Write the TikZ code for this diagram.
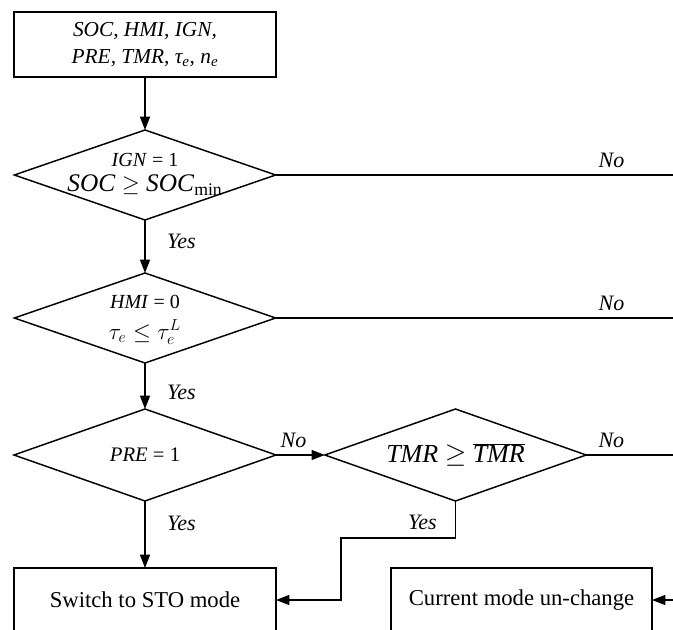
\documentclass[tikz,border=0pt]{standalone}
\usepackage{fontspec}
\setmainfont{Liberation Serif}
\usetikzlibrary{shapes.geometric,arrows.meta}
\newcommand{\dtext}[2][-3pt]{\smash{\makebox[0pt]{\raisebox{#1}{\begin{tabular}{@{}c@{}}#2\end{tabular}}}}}
\tikzset{
  block/.style={draw, rectangle, inner sep=0pt, outer sep=0pt, align=center,
    minimum width=196.5pt, minimum height=48pt, font=\fontsize{17}{20}\selectfont},
  cond/.style={draw, diamond, aspect=2.85, inner sep=0pt, outer sep=0pt,
    minimum width=196pt, minimum height=67.5pt},
  lbl/.style={font=\fontsize{16.5}{18}\selectfont\itshape, inner sep=2pt},
}
\begin{document}
\begin{tikzpicture}[x=0.75pt, y=-0.75pt, line width=1.1pt,
  >={Triangle[length=10pt,width=7.5pt]}]
\useasboundingbox (0,0) rectangle (673,630);
%
\node [block, minimum height=48.75pt, font=\fontsize{16}{20}\selectfont\itshape]
  (input) at (145,44.5) {SOC, HMI, IGN,\\ PRE, TMR, τ\textsubscript{e}, n\textsubscript{e}};
%
\node [cond, font=\fontsize{15}{19}\selectfont] (dign) at (145,175)
  {\dtext{\textit{IGN} = 1\\ \fontsize{19}{19}\selectfont\textit{SOC} $\geq$ \textit{SOC}$_{\mathrm{min}}$}};
\node [cond, font=\fontsize{15}{19}\selectfont] (dhmi) at (145,318)
  {\dtext[-4pt]{\textit{HMI} = 0\\[3pt] \fontsize{17}{17}\selectfont$\tau_e \leq \tau_e^L$}};
\node [cond, minimum width=196.5pt, minimum height=69pt, font=\fontsize{15.5}{18}\selectfont]
  (dpre) at (145,455) {\textit{PRE} = 1};
\node [cond, minimum width=196pt, minimum height=69pt, font=\fontsize{19.5}{22}\selectfont]
  (dtmr) at (455.5,455) {\textit{TMR} $\geq$ $\overline{\textit{TMR}}$};
%
\node [block] (sto) at (145,600) {Switch to STO mode};
\node [block, minimum width=195.75pt] (keep) at (521.5,600) {Current mode un-change};
%
\coordinate (e1) at (673,175);
\coordinate (e2) at (673,318);
\coordinate (e3) at (673,455);
\coordinate (e4) at (673,600);
\coordinate (t1) at (455.5,538);
\coordinate (t2) at (341,538);
%
\draw [->] (input) -- (dign);
\draw (dign.east) -- node [lbl, above=3pt, pos=0.845] {No} (e1);
\draw [->] (dign) -- node [lbl, right=14pt, pos=0.41] {Yes} (dhmi);
\draw (dhmi.east) -- node [lbl, above=3pt, pos=0.845] {No} (e2);
\draw [->] (dhmi) -- node [lbl, right=14pt, pos=0.64] {Yes} (dpre);
\draw [->] (dpre.east) -- node [lbl, above=3pt, pos=0.36] {No} (dtmr.west);
\draw (dtmr.east) -- node [lbl, above=3pt, pos=0.29] {No} (e3);
\draw [->] (dpre) -- node [lbl, right=14pt, pos=0.33] {Yes} (sto);
\draw [->] (dtmr.south) -- node [lbl, left=11.5pt, pos=0.59] {Yes} (t1) -- (t2) |- (sto.east);
\draw [->] (e4) -- (keep.east);
\end{tikzpicture}
\end{document}
